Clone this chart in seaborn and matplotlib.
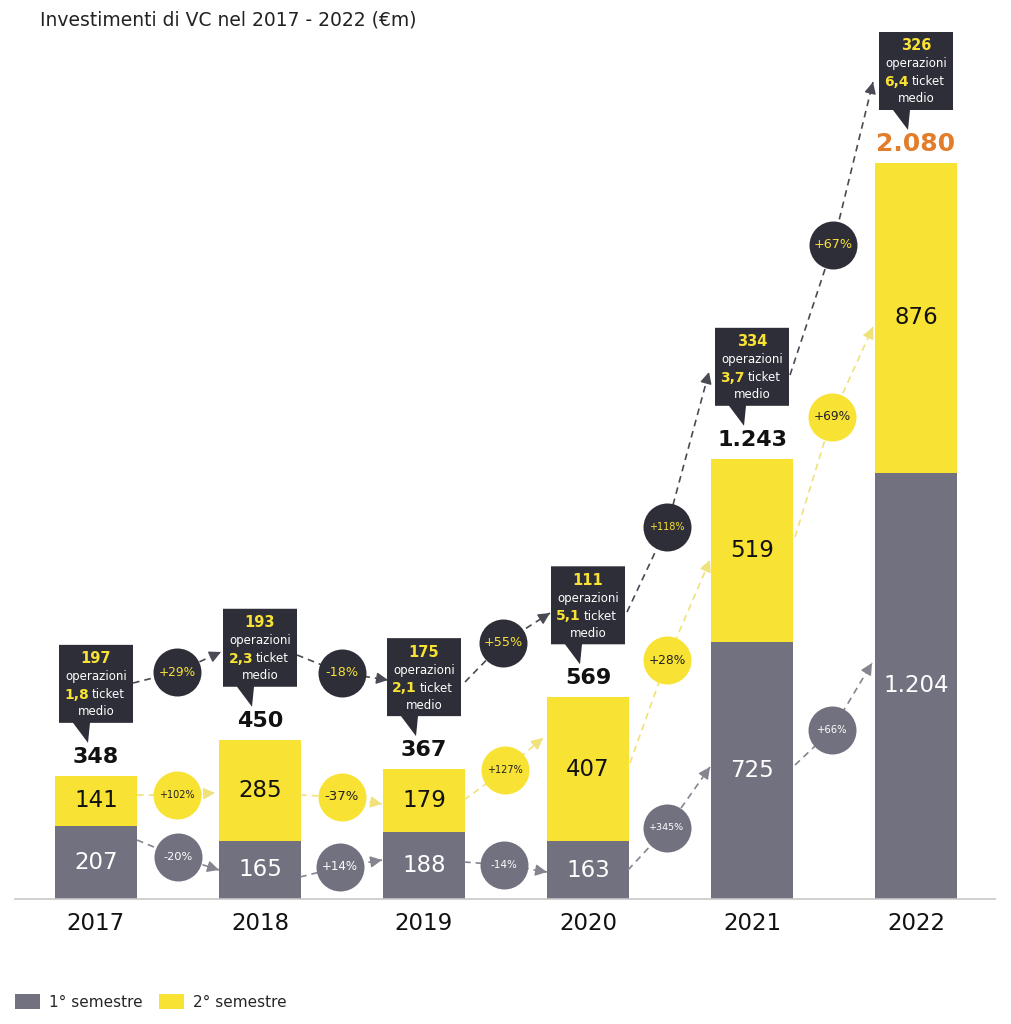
import matplotlib
matplotlib.use('Agg')
import matplotlib.pyplot as plt
import seaborn as sns
import pandas as pd
from matplotlib.patches import Polygon, Patch

# ---------------- data ----------------
years = ['2017', '2018', '2019', '2020', '2021', '2022']
sem1 = [207, 165, 188, 163, 725, 1204]
sem2 = [141, 285, 179, 407, 519, 876]
total_labels = ['348', '450', '367', '569', '1.243', '2.080']
operazioni = ['197', '193', '175', '111', '334', '326']
ticket = ['1,8', '2,3', '2,1', '5,1', '3,7', '6,4']
growth_ops = ['+29%', '-18%', '+55%', '+118%', '+67%']
growth_s2 = ['+102%', '-37%', '+127%', '+28%', '+69%']
growth_s1 = ['-20%', '+14%', '-14%', '+345%', '+66%']

# ---------------- style ----------------
GRAY = '#72717f'
YELLOW = '#f8e234'
DARK = '#2e2e38'
ORANGE = '#e27d2c'
LINE_DARK = '#4a4a54'
LINE_YEL = '#efe27a'
LINE_GRAY = '#85848f'

sns.set_style('white')
plt.rcParams['font.family'] = ['DejaVu Sans']

W, H = 1011, 1024
fig = plt.figure(figsize=(W / 100, H / 100), dpi=100)
ax = fig.add_axes([15 / W, (H - 899) / H, 980 / W, (899 - 30) / H])

df = pd.DataFrame({'year': years, 's1': sem1, 's2': sem2})
df['tot'] = df['s1'] + df['s2']

sns.barplot(data=df, x='year', y='tot', color=YELLOW, saturation=1, width=0.5,
            linewidth=0, ax=ax, zorder=2)
sns.barplot(data=df, x='year', y='s1', color=GRAY, saturation=1, width=0.5,
            linewidth=0, ax=ax, zorder=2)

ax.set_xlim((15 - 96) / 164, (995 - 96) / 164)
ax.set_ylim(0, (899 - 30) / 0.35385)
ax.set_xlabel('')
ax.set_ylabel('')
ax.set_yticks([])
for s in ['left', 'top', 'right']:
    ax.spines[s].set_visible(False)
ax.spines['bottom'].set_color('#c8c8c8')
ax.spines['bottom'].set_linewidth(1.2)
ax.tick_params(axis='x', length=0, pad=9, labelsize=16.5, labelcolor='#111111')


def disp(x, y):
    d = ax.transData.transform((x, y))
    return d[0], H - d[1]


def data(xpx, ypx):
    return tuple(ax.transData.inverted().transform((xpx, H - ypx)))


def fmt(v):
    return f'{v:,}'.replace(',', '.')


# ---------------- labels in bars and totals ----------------
for i in range(len(years)):
    s1, s2 = sem1[i], sem2[i]
    ax.text(i, s1 / 2, fmt(s1), ha='center', va='center', color='white',
            fontsize=16.5, zorder=3)
    ax.text(i, s1 + s2 / 2, fmt(s2), ha='center', va='center', color='#111111',
            fontsize=16.5, zorder=3)
    bx, by = disp(i, s1 + s2)
    last = i == len(years) - 1
    ax.text(*data(bx, by - 19), total_labels[i], ha='center', va='center',
            color=ORANGE if last else '#111111', fontsize=18 if last else 16,
            fontweight='bold', zorder=3)

    # callout box
    bottom = by - 53
    top = bottom - 78
    l, r = bx - 37, bx + 37
    verts_px = [(l, top), (r, top), (r, bottom), (bx - 6, bottom),
                (bx - 8, bottom + 20), (bx - 23, bottom), (l, bottom)]
    ax.add_patch(Polygon([data(*v) for v in verts_px], closed=True,
                         facecolor=DARK, edgecolor='none', zorder=6))
    ax.text(*data(bx, top + 14), operazioni[i], ha='center', va='center',
            color=YELLOW, fontsize=10.5, fontweight='bold', zorder=7)
    ax.text(*data(bx, top + 32), 'operazioni', ha='center', va='center',
            color='white', fontsize=8.5, zorder=7)
    ax.text(*data(bx - 7, top + 50), ticket[i], ha='right', va='center',
            color=YELLOW, fontsize=10, fontweight='bold', zorder=7)
    ax.text(*data(bx - 4, top + 50), 'ticket', ha='left', va='center',
            color='white', fontsize=8.5, zorder=7)
    ax.text(*data(bx, top + 67), 'medio', ha='center', va='center',
            color='white', fontsize=8.5, zorder=7)

# ---------------- growth arrows & circles (pixel layout) ----------------
ops_geo = [((133, 683), (177, 672), (221, 652)),
           ((297, 655), (342, 673), (388, 680)),
           ((465, 682), (503, 643), (550, 613)),
           ((627, 612), (667, 527), (709, 372)),
           ((790, 375), (833, 245), (873, 82))]
s2_geo = [((137, 795), (177, 795), (215, 793)),
          ((300, 795), (342, 797), (382, 804)),
          ((464, 800), (505, 770), (543, 738)),
          ((630, 763), (667, 660), (710, 560)),
          ((795, 537), (832, 417), (873, 327))]
s1_geo = [((137, 840), (178, 857), (219, 870)),
          ((300, 877), (340, 867), (382, 860)),
          ((464, 862), (504, 865), (547, 872)),
          ((628, 870), (667, 828), (710, 767)),
          ((795, 765), (832, 730), (872, 663))]

ops_fs = [8.8, 9.2, 9.2, 7, 9.2]
s2_fs = [7, 9.5, 7, 8.8, 8.8]
s1_fs = [8.2, 8.5, 7.5, 6.8, 7.2]


def draw_growth(geo, labels, sizes, circ_col, line_col, txt_col):
    for (p0, pc, p1), lab, fs in zip(geo, labels, sizes):
        a = data(*p0)
        c = data(*pc)
        b = data(*p1)
        ax.plot([a[0], c[0], b[0]], [a[1], c[1], b[1]], color=line_col, lw=1.2,
                ls=(0, (4, 3)), zorder=4, solid_capstyle='butt')
        dx, dy = p1[0] - pc[0], p1[1] - pc[1]
        n = (dx ** 2 + dy ** 2) ** 0.5
        pre = data(p1[0] - dx / n * 4, p1[1] - dy / n * 4)
        ax.annotate('', xy=b, xytext=pre,
                    arrowprops=dict(arrowstyle='-|>,head_length=0.7,head_width=0.35',
                                    color=line_col, lw=1, shrinkA=0, shrinkB=0),
                    zorder=4)
        ax.scatter([c[0]], [c[1]], s=1194, color=circ_col, linewidths=0, zorder=5)
        ax.text(c[0], c[1], lab, ha='center', va='center', color=txt_col,
                fontsize=fs, zorder=6)


draw_growth(ops_geo, growth_ops, ops_fs, DARK, LINE_DARK, YELLOW)
draw_growth(s2_geo, growth_s2, s2_fs, YELLOW, LINE_YEL, '#222222')
draw_growth(s1_geo, growth_s1, s1_fs, GRAY, LINE_GRAY, 'white')

# ---------------- title & legend ----------------
fig.text(40 / W, 1 - 20 / H, 'Investimenti di VC nel 2017 - 2022 (€m)',
         ha='left', va='center', fontsize=13.5, color='#222222')

handles = [Patch(facecolor=GRAY, edgecolor='none', label='1° semestre'),
           Patch(facecolor=YELLOW, edgecolor='none', label='2° semestre')]
fig.legend(handles=handles, loc='center left',
           bbox_to_anchor=(15 / W, 1 - 1002 / H), ncol=2, frameon=False,
           fontsize=11, handlelength=1.65, handleheight=1.13,
           handletextpad=0.55, columnspacing=1.1, borderpad=0,
           borderaxespad=0)

fig.savefig('out.png', dpi=100)
